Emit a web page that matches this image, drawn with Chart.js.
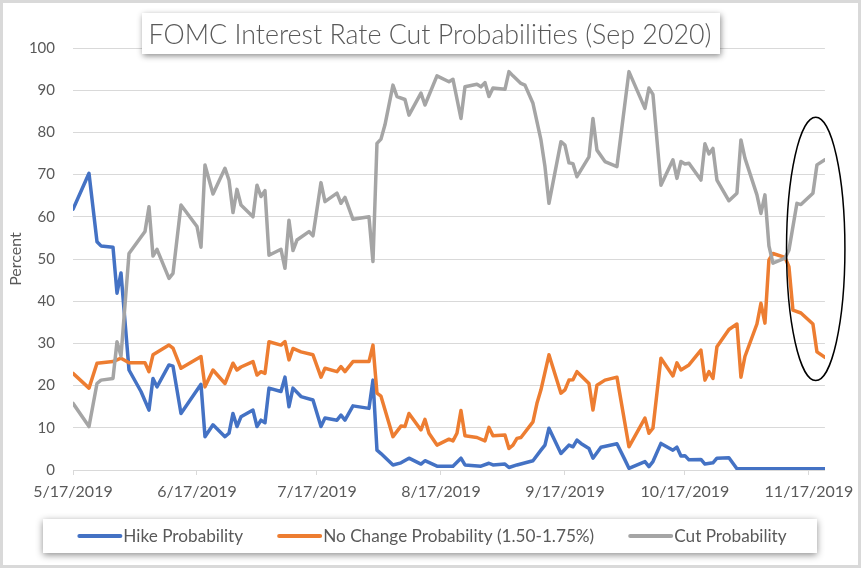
<!DOCTYPE html>
<html>
<head>
<meta charset="utf-8">
<title>FOMC Interest Rate Cut Probabilities</title>
<script src="https://cdn.jsdelivr.net/npm/chart.js@4.4.1/dist/chart.umd.min.js"></script>
<style>
  html, body { margin: 0; padding: 0; background: #fff; }
  #wrap { width: 861px; height: 568px; }
</style>
</head>
<body>
<div id="wrap"><canvas id="chart" width="861" height="568"></canvas></div>
<script>
// x values are days counted from 5/17/2019
const tickDays = [0, 31, 61, 92, 123, 153, 184];
const tickLabels = ['5/17/2019', '6/17/2019', '7/17/2019', '8/17/2019', '9/17/2019', '10/17/2019', '11/17/2019'];

const hikeDays = [0,4,6,7,10,11,12,14,17,19,20,21,24,25,27,32,33,35,38,39,40,41,42,45,46,47,48,49,52,53,54,55,57,60,62,63,66,67,68,70,74,75,76,77,80,82,84,87,88,91,95,97,98,102,104,105,108,109,111,115,117,118,119,122,124,125,126,127,129,130,132,136,138,139,143,144,145,147,150,151,152,153,154,157,158,160,161,164,166,188];
const hikeValues = [61.8,70.3,54.1,53.1,52.8,41.9,46.7,23.7,18.6,14.2,21.7,19.7,24.9,24.6,13.4,20.3,7.9,10.7,7.9,8.7,13.4,10.3,12.6,14.2,10.3,11.8,11.2,19.4,18.6,22.0,15.0,19.4,17.4,16.6,10.3,12.3,11.8,13.0,11.8,15.2,14.6,21.3,4.7,3.9,1.2,1.7,2.8,1.4,2.2,0.9,0.9,2.8,1.2,0.9,1.6,1.2,1.4,0.6,1.2,2.2,4.7,5.9,9.9,3.9,5.9,5.5,7.1,6.3,5.1,2.8,5.4,6.2,2.4,0.4,2.0,0.8,2.0,6.3,4.7,5.4,3.3,3.4,2.4,2.5,1.4,1.7,2.8,2.9,0.3,0.3];

const noChangeDays = [0,4,6,10,12,14,18,19,20,24,25,27,32,33,35,38,40,41,42,45,46,47,48,49,52,53,54,55,57,60,62,63,66,67,68,70,74,75,76,77,80,82,83,84,87,88,89,91,94,95,96,97,98,101,103,104,105,108,109,110,111,112,115,116,117,119,122,123,124,125,126,129,130,131,133,136,139,143,144,145,147,150,151,152,154,157,158,159,160,161,164,166,167,168,171,172,173,174,175,178,179,180,182,185,186,188];
const noChangeValues = [22.9,19.4,25.3,25.7,26.5,25.4,25.4,23.3,27.3,29.6,28.9,24.1,26.9,19.7,23.7,20.5,25.3,23.7,24.4,25.7,22.5,23.3,22.9,30.4,29.6,30.4,26.1,28.8,28.0,27.3,22.0,24.1,23.3,24.5,23.3,25.7,25.7,29.6,18.2,17.5,7.9,10.4,10.3,13.4,9.5,12.0,8.7,5.9,7.3,6.9,8.7,14.1,8.1,7.7,6.9,10.1,8.1,8.3,5.1,5.9,7.5,7.7,11.4,15.8,19.0,27.3,18.2,19.0,21.3,21.4,23.3,20.5,14.2,20.1,21.3,22.0,5.5,12.3,8.7,9.9,26.5,22.3,25.4,23.7,24.9,28.4,21.3,23.3,21.7,29.2,33.3,34.6,22.0,26.9,34.6,39.5,34.8,49.8,51.3,50.4,48.2,37.9,37.2,34.6,28.0,26.7];

const cutDays = [0,4,6,7,10,11,12,14,18,19,20,21,24,25,27,31,32,33,35,38,39,40,41,42,45,46,47,48,49,52,53,54,55,56,59,60,62,63,66,67,68,70,74,75,76,77,78,80,81,83,84,87,88,91,94,95,97,98,101,102,103,104,105,108,109,110,112,113,115,117,118,119,122,123,124,125,126,129,130,131,133,136,139,143,144,145,147,150,151,152,153,154,157,158,159,160,161,164,166,167,168,171,172,173,174,175,178,179,181,182,185,186,188];
const cutValues = [15.8,10.3,20.5,21.3,21.7,30.4,27.0,51.3,56.5,62.4,50.7,52.3,45.4,46.6,62.8,57.7,52.8,72.3,65.4,71.5,68.7,61.0,66.5,62.8,60.0,67.5,64.8,66.2,50.9,52.3,47.8,59.2,52.0,54.5,56.5,55.5,68.1,63.6,65.6,63.2,64.6,59.4,60.0,49.4,77.4,78.4,81.8,91.2,88.5,87.8,84.1,89.3,86.5,93.4,92.0,92.6,83.3,90.8,91.4,90.8,91.8,88.5,90.5,90.2,94.4,93.4,91.6,91.2,86.9,78.2,71.9,63.2,77.8,77.0,72.8,72.6,69.5,74.2,83.3,75.8,73.1,71.9,94.4,85.7,90.5,89.0,67.5,73.5,69.1,73.1,72.5,72.7,68.7,77.3,74.9,76.2,68.7,63.8,65.6,78.2,73.9,65.2,60.8,65.2,53.1,49.0,50.2,52.1,63.2,62.9,65.6,72.3,73.5];

const toPoints = (days, vals) => days.map((d, i) => ({ x: d, y: vals[i] }));

const FONT = 'Lato';
const TEXT = '#595959';
const GRID = '#d9d9d9';

// outline, title box, legend box and the circled area at the end
const decorations = {
  id: 'decorations',
  beforeDraw(chart) {
    const ctx = chart.ctx;
    ctx.save();
    ctx.fillStyle = '#fff';
    ctx.fillRect(0, 0, chart.width, chart.height);
    ctx.restore();
  },
  afterDatasetsDraw(chart) {
    const ctx = chart.ctx, xs = chart.scales.x, ys = chart.scales.y;
    const cx = xs.getPixelForValue(185.7), cy = ys.getPixelForValue(52.4);
    const rx = xs.getPixelForValue(185.7 + 7.3) - cx;
    const ry = cy - ys.getPixelForValue(52.4 + 31.2);
    ctx.save();
    ctx.strokeStyle = '#000';
    ctx.lineWidth = 1.5;
    ctx.beginPath();
    ctx.ellipse(cx, cy, rx, ry, 0, 0, Math.PI * 2);
    ctx.stroke();
    ctx.restore();
  },
  afterDraw(chart) {
    const ctx = chart.ctx;
    ctx.save();
    ctx.strokeStyle = GRID;
    ctx.lineWidth = 3;
    ctx.strokeRect(1.5, 1.5, chart.width - 3, chart.height - 3);

    // title box
    ctx.save();
    ctx.shadowColor = 'rgba(0,0,0,0.45)';
    ctx.shadowBlur = 6;
    ctx.shadowOffsetX = 1;
    ctx.shadowOffsetY = 2;
    ctx.fillStyle = '#fff';
    ctx.fillRect(142, 13, 578, 41);
    ctx.restore();
    const title = 'FOMC Interest Rate Cut Probabilities (Sep 2020)';
    ctx.font = '300 26px ' + FONT;
    let size = 26 * 562 / ctx.measureText(title).width;
    ctx.font = '300 ' + size.toFixed(1) + 'px ' + FONT;
    ctx.fillStyle = TEXT;
    ctx.textBaseline = 'middle';
    ctx.textAlign = 'center';
    ctx.fillText(title, 430, 35);

    // legend box
    ctx.save();
    ctx.shadowColor = 'rgba(0,0,0,0.45)';
    ctx.shadowBlur = 7;
    ctx.shadowOffsetX = 0;
    ctx.shadowOffsetY = 2;
    ctx.fillStyle = '#fff';
    ctx.fillRect(43, 519, 774, 34);
    ctx.restore();

    const sets = chart.data.datasets;
    ctx.font = '16px ' + FONT;
    let w16 = sets.reduce((s, d) => s + ctx.measureText(d.label).width, 0);
    const lsize = 16 * 503 / w16;
    ctx.font = lsize.toFixed(1) + 'px ' + FONT;
    const swatch = 45, gap = 34;
    const widths = sets.map(d => swatch + 1 + ctx.measureText(d.label).width);
    const total = widths.reduce((a, b) => a + b, 0) + gap * (sets.length - 1);
    let x = 432 - total / 2;
    ctx.textAlign = 'left';
    sets.forEach((d, i) => {
      ctx.strokeStyle = d.borderColor;
      ctx.lineWidth = 4;
      ctx.lineCap = 'round';
      ctx.beginPath();
      ctx.moveTo(x + 2, 536);
      ctx.lineTo(x + swatch - 2, 536);
      ctx.stroke();
      ctx.fillStyle = TEXT;
      ctx.fillText(d.label, x + swatch + 1, 536);
      x += widths[i] + gap;
    });
    ctx.restore();
  }
};

const ctx = document.getElementById('chart').getContext('2d');
new Chart(ctx, {
  type: 'line',
  data: {
    datasets: [
      { label: 'Hike Probability', data: toPoints(hikeDays, hikeValues), borderColor: '#4472C4', order: 2 },
      { label: 'No Change Probability (1.50-1.75%)', data: toPoints(noChangeDays, noChangeValues), borderColor: '#ED7D31', order: 1 },
      { label: 'Cut Probability', data: toPoints(cutDays, cutValues), borderColor: '#A5A5A5', order: 0 }
    ]
  },
  options: {
    responsive: false,
    animation: false,
    layout: { padding: { top: 48, right: 34, bottom: 60, left: 0 } },
    elements: {
      line: { borderWidth: 3.5, tension: 0, borderJoinStyle: 'round', borderCapStyle: 'round', fill: false },
      point: { radius: 0, hoverRadius: 0 }
    },
    plugins: {
      legend: { display: false },
      tooltip: { enabled: false }
    },
    scales: {
      x: {
        type: 'linear',
        min: 0,
        max: 188,
        afterBuildTicks: s => { s.ticks = tickDays.map(v => ({ value: v })); },
        afterFit: s => { s.height = 38; },
        ticks: {
          autoSkip: false, maxRotation: 0, minRotation: 0, padding: 7,
          color: TEXT, font: { family: FONT, size: 16 },
          callback: (v, i) => tickLabels[i]
        },
        grid: { drawOnChartArea: false, drawTicks: true, tickLength: 5, color: GRID },
        border: { color: GRID, width: 1 }
      },
      y: {
        min: 0,
        max: 100,
        afterFit: s => { s.width = 73; },
        ticks: { stepSize: 10, padding: 18, color: TEXT, font: { family: FONT, size: 15 } },
        grid: { color: GRID, drawTicks: false },
        border: { display: false },
        title: { display: true, text: 'Percent', color: TEXT, font: { family: FONT, size: 16 }, padding: { top: 6, bottom: 0 } }
      }
    }
  },
  plugins: [decorations]
});
</script>
</body>
</html>
